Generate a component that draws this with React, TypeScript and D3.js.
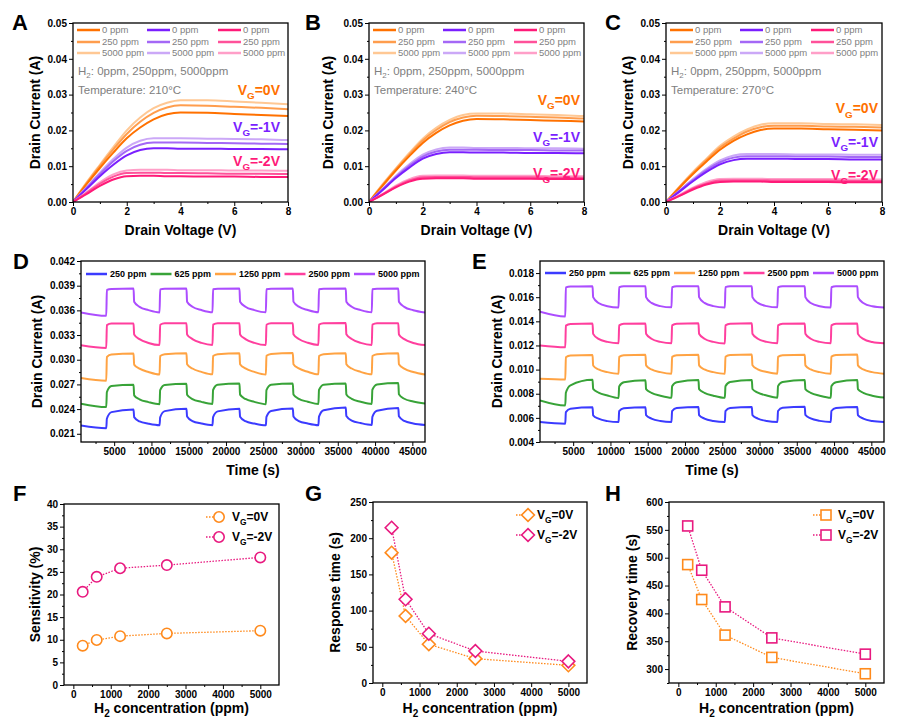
import { useEffect, useRef } from "react";
import * as d3 from "d3";

const FONT = "'Liberation Sans', Arial, Helvetica, sans-serif";

// ---------- A-C: output curves ----------
const VD = [0, 0.5, 1, 1.5, 2, 2.5, 3, 3.5, 4, 5, 6, 7, 8];
const PPM_LABELS = ["0 ppm", "250 ppm", "5000 ppm"];
const TEMPS = ["210°C", "240°C", "270°C"];

// rows: 0 ppm, 250 ppm, 5000 ppm
const A_VG0 = [
  [0, 0.0049, 0.0095, 0.0138, 0.0178, 0.0208, 0.0231, 0.0245, 0.025, 0.0249, 0.0246, 0.0243, 0.024],
  [0, 0.0052, 0.0101, 0.0147, 0.019, 0.0224, 0.0249, 0.0264, 0.027, 0.0269, 0.0266, 0.0263, 0.0259],
  [0, 0.0054, 0.0104, 0.0153, 0.02, 0.0236, 0.0262, 0.0277, 0.0284, 0.0284, 0.0281, 0.0277, 0.0273],
];
const A_VG1 = [
  [0, 0.0036, 0.0072, 0.0104, 0.013, 0.0145, 0.015, 0.015, 0.0149, 0.0149, 0.0148, 0.0148, 0.0147],
  [0, 0.0039, 0.0078, 0.0114, 0.0143, 0.016, 0.0166, 0.0166, 0.0166, 0.0165, 0.0164, 0.0163, 0.0162],
  [0, 0.0041, 0.0082, 0.012, 0.0152, 0.0171, 0.0178, 0.0178, 0.0178, 0.0177, 0.0176, 0.0175, 0.0173],
];
const A_VG2 = [
  [0, 0.0022, 0.0045, 0.0063, 0.0072, 0.0073, 0.0073, 0.0072, 0.0072, 0.0071, 0.0071, 0.007, 0.007],
  [0, 0.0025, 0.0051, 0.0071, 0.0081, 0.0082, 0.0082, 0.0081, 0.0081, 0.008, 0.0079, 0.0079, 0.0078],
  [0, 0.0027, 0.0055, 0.0077, 0.0088, 0.009, 0.009, 0.009, 0.0089, 0.0089, 0.0088, 0.0088, 0.0087],
];
const B_VG0 = [
  [0, 0.0045, 0.0088, 0.0128, 0.0165, 0.0193, 0.0214, 0.0227, 0.0232, 0.0231, 0.0229, 0.0227, 0.0225],
  [0, 0.0047, 0.0092, 0.0133, 0.0172, 0.0201, 0.0223, 0.0236, 0.0241, 0.024, 0.0238, 0.0236, 0.0233],
  [0, 0.0049, 0.0094, 0.0137, 0.0177, 0.0207, 0.0229, 0.0243, 0.0247, 0.0247, 0.0245, 0.0243, 0.024],
];
const B_VG1 = [
  [0, 0.0033, 0.0067, 0.0096, 0.0121, 0.0134, 0.0139, 0.0139, 0.0138, 0.0138, 0.0137, 0.0137, 0.0136],
  [0, 0.0035, 0.007, 0.0101, 0.0127, 0.0141, 0.0146, 0.0146, 0.0146, 0.0145, 0.0145, 0.0144, 0.0144],
  [0, 0.0036, 0.0073, 0.0105, 0.0132, 0.0147, 0.0152, 0.0152, 0.0151, 0.0151, 0.015, 0.015, 0.0149],
];
const B_VG2 = [
  [0, 0.002, 0.0041, 0.0057, 0.0065, 0.0066, 0.0066, 0.0066, 0.0065, 0.0065, 0.0065, 0.0064, 0.0064],
  [0, 0.0021, 0.0043, 0.006, 0.0069, 0.007, 0.007, 0.007, 0.0069, 0.0069, 0.0069, 0.0068, 0.0068],
  [0, 0.0022, 0.0046, 0.0064, 0.0073, 0.0074, 0.0074, 0.0074, 0.0073, 0.0073, 0.0073, 0.0072, 0.0072],
];
const C_VG0 = [
  [0, 0.004, 0.0078, 0.0113, 0.0146, 0.0171, 0.0189, 0.0201, 0.0205, 0.0205, 0.0203, 0.0202, 0.02],
  [0, 0.0042, 0.0081, 0.0118, 0.0152, 0.0177, 0.0197, 0.0209, 0.0213, 0.0213, 0.0211, 0.021, 0.0208],
  [0, 0.0043, 0.0084, 0.0121, 0.0157, 0.0183, 0.0203, 0.0216, 0.022, 0.022, 0.0218, 0.0217, 0.0215],
];
const C_VG1 = [
  [0, 0.0029, 0.0058, 0.0084, 0.0105, 0.0117, 0.0121, 0.0121, 0.0121, 0.012, 0.012, 0.0119, 0.0119],
  [0, 0.0031, 0.0061, 0.0089, 0.0111, 0.0124, 0.0128, 0.0128, 0.0128, 0.0127, 0.0127, 0.0126, 0.0126],
  [0, 0.0032, 0.0064, 0.0093, 0.0116, 0.013, 0.0134, 0.0134, 0.0134, 0.0133, 0.0133, 0.0132, 0.0132],
];
const C_VG2 = [
  [0, 0.0017, 0.0035, 0.0049, 0.0056, 0.0057, 0.0057, 0.0057, 0.0056, 0.0056, 0.0056, 0.0055, 0.0055],
  [0, 0.0018, 0.0038, 0.0052, 0.006, 0.0061, 0.0061, 0.0061, 0.006, 0.006, 0.006, 0.0059, 0.0059],
  [0, 0.002, 0.004, 0.0056, 0.0064, 0.0065, 0.0065, 0.0065, 0.0064, 0.0064, 0.0064, 0.0063, 0.0063],
];

const IV_COLORS = [
  ["#ff7100", "#ff9d4d", "#ffc894"],
  ["#7a1fff", "#a468f6", "#cba8f7"],
  ["#ff1a78", "#ff519a", "#ff9fc8"],
];
const VG_NAMES = ["=0V", "=-1V", "=-2V"];

// ---------- D-E: transient response ----------
const CONC_LABELS = ["250 ppm", "625 ppm", "1250 ppm", "2500 ppm", "5000 ppm"];
const TS_COLORS = ["#3b3bff", "#38a338", "#ffa343", "#ff3f9e", "#ac4dff"];

// time knots (s): start, then per cycle [on, on+, knee, off, off+, decay, decay], end
const T_KNOTS = [
  550,
  3940, 4020, 4640, 7600, 7680, 8400, 9600,
  11090, 11170, 11790, 14700, 14780, 15500, 16700,
  18190, 18270, 18890, 21810, 21890, 22610, 23810,
  25350, 25430, 26050, 28970, 29050, 29770, 30970,
  32400, 32480, 33100, 36070, 36150, 36870, 38070,
  39560, 39640, 40260, 43120, 43200, 43920, 45120,
  46700,
];

const D_250 = [
  0.022,
  0.02168, 0.02283, 0.02363, 0.02396, 0.02302, 0.0225, 0.02222,
  0.02203, 0.023, 0.02375, 0.02405, 0.0231, 0.02255, 0.02225,
  0.02205, 0.02302, 0.02372, 0.02403, 0.02308, 0.02253, 0.02224,
  0.02203, 0.02305, 0.02378, 0.02408, 0.0231, 0.02255, 0.02225,
  0.02205, 0.02308, 0.02385, 0.02418, 0.02315, 0.0226, 0.0223,
  0.02208, 0.02306, 0.0238, 0.02412, 0.02312, 0.02256, 0.02226,
  0.02208,
];
const D_625 = [
  0.02466,
  0.02425, 0.02607, 0.0268, 0.02697, 0.02567, 0.02518, 0.02485,
  0.0246, 0.0263, 0.02692, 0.02708, 0.02575, 0.02522, 0.02488,
  0.02462, 0.02632, 0.02695, 0.0271, 0.02576, 0.02523, 0.02488,
  0.0246, 0.0263, 0.02696, 0.02712, 0.02577, 0.02524, 0.0249,
  0.02462, 0.02633, 0.02697, 0.02712, 0.02578, 0.02524, 0.0249,
  0.02463, 0.02635, 0.027, 0.02718, 0.0258, 0.02526, 0.02492,
  0.02468,
];
const D_1250 = [
  0.02778,
  0.02745, 0.03034, 0.03063, 0.03075, 0.02941, 0.02892, 0.02851,
  0.0282, 0.03045, 0.03068, 0.03078, 0.02945, 0.02893, 0.02852,
  0.02822, 0.03046, 0.03068, 0.03079, 0.02946, 0.02894, 0.02852,
  0.0282, 0.03048, 0.0307, 0.03082, 0.02946, 0.02894, 0.02853,
  0.02822, 0.03046, 0.03068, 0.0308, 0.02946, 0.02893, 0.02852,
  0.02822, 0.03045, 0.03067, 0.03078, 0.02945, 0.02892, 0.02851,
  0.0282,
];
const D_2500 = [
  0.03176,
  0.03143, 0.0342, 0.0344, 0.0344, 0.03307, 0.0325, 0.03204,
  0.03178, 0.03425, 0.03442, 0.03443, 0.03308, 0.03251, 0.03205,
  0.0318, 0.03426, 0.03443, 0.03443, 0.03308, 0.03251, 0.03205,
  0.03178, 0.03425, 0.03442, 0.03444, 0.03309, 0.03252, 0.03206,
  0.0318, 0.03427, 0.03444, 0.03446, 0.0331, 0.03252, 0.03205,
  0.0318, 0.03426, 0.03443, 0.03444, 0.03308, 0.0325, 0.03204,
  0.03178,
];
const D_5000 = [
  0.03575,
  0.03534, 0.03847, 0.03859, 0.03867, 0.03704, 0.03643, 0.03603,
  0.03575, 0.03855, 0.03862, 0.03866, 0.03705, 0.03644, 0.03604,
  0.03577, 0.03856, 0.03863, 0.03866, 0.03705, 0.03644, 0.03603,
  0.03576, 0.03856, 0.03863, 0.03867, 0.03706, 0.03645, 0.03604,
  0.03577, 0.03857, 0.03864, 0.03867, 0.03705, 0.03644, 0.03603,
  0.03576, 0.03856, 0.03863, 0.03866, 0.03704, 0.03643, 0.03602,
  0.03575,
];

const E_250 = [
  0.00565,
  0.00552, 0.00648, 0.00676, 0.00687, 0.00621, 0.00593, 0.00573,
  0.00565, 0.00655, 0.0068, 0.00689, 0.00622, 0.00594, 0.00574,
  0.00566, 0.00656, 0.00681, 0.0069, 0.00623, 0.00594, 0.00574,
  0.00565, 0.00656, 0.00682, 0.00691, 0.00623, 0.00594, 0.00574,
  0.00566, 0.00657, 0.00683, 0.00692, 0.00624, 0.00595, 0.00575,
  0.00566, 0.00657, 0.00682, 0.00691, 0.00623, 0.00594, 0.00574,
  0.00566,
];
const E_625 = [
  0.00745,
  0.00703, 0.00808, 0.0087, 0.00915, 0.0084, 0.0081, 0.00785,
  0.00765, 0.0086, 0.00895, 0.00912, 0.00838, 0.00808, 0.00784,
  0.00767, 0.00862, 0.00896, 0.00913, 0.00838, 0.00808, 0.00784,
  0.00766, 0.00862, 0.00897, 0.00914, 0.00839, 0.00809, 0.00785,
  0.00767, 0.00863, 0.00897, 0.00913, 0.00838, 0.00808, 0.00784,
  0.00767, 0.00862, 0.00896, 0.00913, 0.00838, 0.00808, 0.00784,
  0.00768,
];
const E_1250 = [
  0.00924,
  0.00918, 0.01102, 0.01117, 0.01122, 0.01034, 0.01001, 0.00979,
  0.00965, 0.01105, 0.01118, 0.01123, 0.01035, 0.01001, 0.00979,
  0.00966, 0.01106, 0.01119, 0.01123, 0.01035, 0.01001, 0.00979,
  0.00965, 0.01106, 0.0112, 0.01125, 0.01036, 0.01002, 0.0098,
  0.00966, 0.01106, 0.01119, 0.01124, 0.01035, 0.01001, 0.00979,
  0.00966, 0.01107, 0.0112, 0.01125, 0.01035, 0.01001, 0.00979,
  0.00966,
];
const E_2500 = [
  0.012,
  0.01185, 0.01364, 0.01378, 0.01383, 0.01296, 0.01255, 0.0123,
  0.01218, 0.01366, 0.01379, 0.01383, 0.01297, 0.01256, 0.0123,
  0.01218, 0.01366, 0.01379, 0.01384, 0.01297, 0.01256, 0.0123,
  0.01217, 0.01367, 0.0138, 0.01384, 0.01297, 0.01256, 0.0123,
  0.01218, 0.01366, 0.01379, 0.01383, 0.01297, 0.01256, 0.0123,
  0.01218, 0.01366, 0.01379, 0.01383, 0.01296, 0.01255, 0.01229,
  0.01218,
];
const E_5000 = [
  0.0148,
  0.01441, 0.01681, 0.01689, 0.0169, 0.016, 0.01552, 0.01525,
  0.01515, 0.01683, 0.0169, 0.0169, 0.01601, 0.01553, 0.01526,
  0.01516, 0.01683, 0.0169, 0.01691, 0.01601, 0.01553, 0.01526,
  0.01515, 0.01684, 0.01691, 0.01691, 0.01601, 0.01553, 0.01526,
  0.01516, 0.01683, 0.0169, 0.0169, 0.016, 0.01552, 0.01525,
  0.01515, 0.01683, 0.0169, 0.0169, 0.016, 0.01552, 0.01525,
  0.01515,
];

// ---------- F-H: summary ----------
const H2_PPM = [250, 625, 1250, 2500, 5000];
const SENS_0V = [8.7, 9.95, 10.8, 11.4, 12.0];
const SENS_2V = [20.6, 23.9, 25.8, 26.5, 28.2];
const RESP_0V = [180, 92.5, 53.5, 33.6, 24.4];
const RESP_2V = [214.5, 115.6, 68.1, 44.2, 29.9];
const REC_0V = [487.6, 424.9, 361, 321, 291.6];
const REC_2V = [557, 477.5, 411.7, 356, 326.8];
const SUM_COLORS = ["#ff8a1c", "#e8197f"];

type Box = { l: number; t: number; w: number; h: number };
type Sel = d3.Selection<any, any, any, any>;

let clipId = 0;

function panel(
  svg: Sel,
  box: Box,
  x: d3.ScaleLinear<number, number>,
  y: d3.ScaleLinear<number, number>,
  cfg: {
    xTicks: number[];
    xMinor: number[];
    yTicks: number[];
    yMinor: number[];
    xFmt: (d: any) => string;
    yFmt: (d: any) => string;
  }
) {
  const g = svg.append("g").attr("transform", `translate(${box.l},${box.t})`);
  g.append("g")
    .attr("transform", `translate(0,${box.h})`)
    .call(d3.axisBottom(x).tickValues(cfg.xTicks).tickFormat(cfg.xFmt).tickSize(4).tickSizeOuter(0).tickPadding(2));
  g.append("g")
    .attr("transform", `translate(0,${box.h})`)
    .call(d3.axisBottom(x).tickValues(cfg.xMinor).tickFormat(() => "").tickSize(2).tickSizeOuter(0));
  g.append("g").call(
    d3.axisLeft(y).tickValues(cfg.yTicks).tickFormat(cfg.yFmt).tickSize(4).tickSizeOuter(0).tickPadding(2)
  );
  g.append("g").call(d3.axisLeft(y).tickValues(cfg.yMinor).tickFormat(() => "").tickSize(2).tickSizeOuter(0));
  g.selectAll(".domain").remove();
  g.selectAll(".tick line").attr("stroke", "#000").attr("stroke-width", 1);
  g.selectAll(".tick text")
    .attr("font-family", FONT)
    .attr("font-weight", "bold")
    .attr("font-size", 10)
    .attr("fill", "#000");
  const id = `clip${clipId++}`;
  g.append("clipPath").attr("id", id).append("rect").attr("width", box.w).attr("height", box.h);
  const plot = g.append("g").attr("clip-path", `url(#${id})`);
  return { g, plot };
}

function frame(g: Sel, box: Box) {
  g.append("rect")
    .attr("width", box.w)
    .attr("height", box.h)
    .attr("fill", "none")
    .attr("stroke", "#000")
    .attr("stroke-width", 1.3);
}

function yTitle(g: Sel, box: Box, off: number, text: string) {
  g.append("text")
    .attr("transform", `translate(${-off},${box.h / 2}) rotate(-90)`)
    .attr("text-anchor", "middle")
    .attr("dy", "0.35em")
    .attr("font-family", FONT)
    .attr("font-weight", "bold")
    .attr("font-size", 14)
    .text(text);
}

function xTitle(g: Sel, box: Box, baseline: number, text: string, sub?: [string, string]) {
  const t = g
    .append("text")
    .attr("x", box.w / 2)
    .attr("y", baseline - box.t)
    .attr("text-anchor", "middle")
    .attr("font-family", FONT)
    .attr("font-weight", "bold")
    .attr("font-size", 14);
  if (sub) {
    t.append("tspan").text(sub[0]);
    t.append("tspan").attr("font-size", 10).attr("dy", 4).text(sub[1]);
    t.append("tspan").attr("dy", -4).text(text);
  } else t.text(text);
}

function vgText(g: Sel, x: number, y: number, rest: string, size: number, color: string, anchor: string) {
  const t = g
    .append("text")
    .attr("x", x)
    .attr("y", y)
    .attr("text-anchor", anchor)
    .attr("font-family", FONT)
    .attr("font-weight", "bold")
    .attr("font-size", size)
    .attr("fill", color);
  t.append("tspan").text("V");
  t.append("tspan").attr("font-size", size * 0.7).attr("dy", size * 0.3).text("G");
  t.append("tspan").attr("dy", -size * 0.3).text(rest);
  return t;
}

function letter(svg: Sel, x: number, y: number, s: string) {
  svg
    .append("text")
    .attr("x", x)
    .attr("y", y)
    .attr("font-family", FONT)
    .attr("font-weight", "bold")
    .attr("font-size", 22)
    .text(s);
}

function drawIV(
  svg: Sel,
  box: Box,
  sets: number[][][],
  temp: string,
  vgY: number[],
  rightPad: number,
  titleOff: number
) {
  const x = d3.scaleLinear().domain([0, 8]).range([0, box.w]);
  const y = d3.scaleLinear().domain([0, 0.05]).range([box.h, 0]);
  const { g, plot } = panel(svg, box, x, y, {
    xTicks: [0, 2, 4, 6, 8],
    xMinor: [1, 3, 5, 7],
    yTicks: [0, 0.01, 0.02, 0.03, 0.04, 0.05],
    yMinor: [0.005, 0.015, 0.025, 0.035, 0.045],
    xFmt: d3.format("d"),
    yFmt: d3.format(".2f"),
  });
  const line = d3
    .line<number>()
    .x((_, i) => x(VD[i]))
    .y((d) => y(d))
    .curve(d3.curveMonotoneX);
  sets.forEach((set, vi) => {
    [2, 1, 0].forEach((ci) => {
      plot
        .append("path")
        .attr("d", line(set[ci]))
        .attr("fill", "none")
        .attr("stroke", IV_COLORS[vi][ci])
        .attr("stroke-width", 2);
    });
  });
  // legend 3x3
  const cols = [4, 74, 145];
  const rows = [7, 19, 30];
  cols.forEach((cx, vi) => {
    rows.forEach((ry, ci) => {
      g.append("line")
        .attr("x1", cx)
        .attr("x2", cx + 23)
        .attr("y1", ry)
        .attr("y2", ry)
        .attr("stroke", IV_COLORS[vi][ci])
        .attr("stroke-width", 2.5);
      g.append("text")
        .attr("x", cx + 25)
        .attr("y", ry)
        .attr("dy", "0.35em")
        .attr("font-family", FONT)
        .attr("font-size", 9.5)
        .attr("fill", "#7f7f7f")
        .text(PPM_LABELS[ci]);
    });
  });
  const h2 = g
    .append("text")
    .attr("x", 5)
    .attr("y", 52)
    .attr("font-family", FONT)
    .attr("font-size", 11.5)
    .attr("fill", "#808080");
  h2.append("tspan").text("H");
  h2.append("tspan").attr("font-size", 8).attr("dy", 3).text("2");
  h2.append("tspan").attr("dy", -3).text(": 0ppm, 250ppm, 5000ppm");
  g.append("text")
    .attr("x", 5)
    .attr("y", 71)
    .attr("font-family", FONT)
    .attr("font-size", 11.5)
    .attr("fill", "#808080")
    .text(`Temperature: ${temp}`);
  VG_NAMES.forEach((nm, vi) => {
    vgText(g, box.w - rightPad, y(vgY[vi]), nm, 14, IV_COLORS[vi][0], "end");
  });
  frame(g, box);
  yTitle(g, box, titleOff, "Drain Current (A)");
  xTitle(g, box, 235, "Drain Voltage (V)");
}

function drawTS(
  svg: Sel,
  box: Box,
  series: number[][],
  yDomain: [number, number],
  yTicks: number[],
  yMinor: number[],
  legendX: number,
  legendY: number,
  titleOff: number
) {
  const x = d3.scaleLinear().domain([550, 46700]).range([0, box.w]);
  const y = d3.scaleLinear().domain(yDomain).range([box.h, 0]);
  const { g, plot } = panel(svg, box, x, y, {
    xTicks: d3.range(5000, 45001, 5000),
    xMinor: d3.range(2500, 46000, 5000),
    yTicks,
    yMinor,
    xFmt: d3.format("d"),
    yFmt: d3.format(".3f"),
  });
  const line = d3
    .line<number>()
    .x((_, i) => x(T_KNOTS[i]))
    .y((d) => y(d))
    .curve(d3.curveMonotoneX);
  series.forEach((s, i) => {
    plot
      .append("path")
      .attr("d", line(s))
      .attr("fill", "none")
      .attr("stroke", TS_COLORS[i])
      .attr("stroke-width", 2)
      .attr("stroke-linejoin", "round");
  });
  // legend row
  const widths = [36.5, 36.5, 41.5, 41.5, 41.5];
  let cx = legendX - box.l;
  const ly = legendY - box.t;
  CONC_LABELS.forEach((lab, i) => {
    g.append("line")
      .attr("x1", cx)
      .attr("x2", cx + 21)
      .attr("y1", ly)
      .attr("y2", ly)
      .attr("stroke", TS_COLORS[i])
      .attr("stroke-width", 2.5);
    g.append("text")
      .attr("x", cx + 24)
      .attr("y", ly)
      .attr("dy", "0.35em")
      .attr("font-family", FONT)
      .attr("font-weight", "bold")
      .attr("font-size", 9)
      .text(lab);
    cx += 24 + widths[i] + 4;
  });
  frame(g, box);
  yTitle(g, box, titleOff, "Drain Current (A)");
  xTitle(g, box, 475, "Time (s)");
}

function marker(g: Sel, kind: string, cx: number, cy: number, color: string) {
  if (kind === "circle") {
    g.append("circle")
      .attr("cx", cx)
      .attr("cy", cy)
      .attr("r", 5.2)
      .attr("fill", "#fff")
      .attr("stroke", color)
      .attr("stroke-width", 1.6);
  } else if (kind === "diamond") {
    const r = 6.4;
    g.append("path")
      .attr("d", `M${cx},${cy - r}L${cx + r},${cy}L${cx},${cy + r}L${cx - r},${cy}Z`)
      .attr("fill", "#fff")
      .attr("stroke", color)
      .attr("stroke-width", 1.6);
  } else {
    g.append("rect")
      .attr("x", cx - 5)
      .attr("y", cy - 5)
      .attr("width", 10)
      .attr("height", 10)
      .attr("fill", "#fff")
      .attr("stroke", color)
      .attr("stroke-width", 1.6);
  }
}

function drawSummary(
  svg: Sel,
  box: Box,
  s0: number[],
  s2: number[],
  yDomain: [number, number],
  yTicks: number[],
  yMinor: number[],
  kind: string,
  title: string,
  titleOff: number,
  leg: { line: number; mk: number; tx: number; y1: number; y2: number }
) {
  const x = d3.scaleLinear().domain([-250, 5500]).range([0, box.w]);
  const y = d3.scaleLinear().domain(yDomain).range([box.h, 0]);
  const { g } = panel(svg, box, x, y, {
    xTicks: [0, 1000, 2000, 3000, 4000, 5000],
    xMinor: [500, 1500, 2500, 3500, 4500],
    yTicks,
    yMinor,
    xFmt: d3.format("d"),
    yFmt: d3.format("d"),
  });
  const line = d3
    .line<number>()
    .x((_, i) => x(H2_PPM[i]))
    .y((d) => y(d));
  [s0, s2].forEach((s, k) => {
    g.append("path")
      .attr("d", line(s))
      .attr("fill", "none")
      .attr("stroke", SUM_COLORS[k])
      .attr("stroke-width", 1.3)
      .attr("stroke-dasharray", "1.5 1.5");
  });
  [s0, s2].forEach((s, k) => {
    s.forEach((v, i) => marker(g, kind, x(H2_PPM[i]), y(v), SUM_COLORS[k]));
  });
  // legend
  [leg.y1, leg.y2].forEach((ly, k) => {
    const yy = ly - box.t;
    g.append("line")
      .attr("x1", leg.line - box.l)
      .attr("x2", leg.mk - box.l)
      .attr("y1", yy)
      .attr("y2", yy)
      .attr("stroke", SUM_COLORS[k])
      .attr("stroke-width", 1.3)
      .attr("stroke-dasharray", "1.5 1.5");
    marker(g, kind, leg.mk - box.l, yy, SUM_COLORS[k]);
    vgText(g, leg.tx - box.l, yy + 4.3, k === 0 ? "=0V" : "=-2V", 12, "#000", "start");
  });
  frame(g, box);
  yTitle(g, box, titleOff, title);
  xTitle(g, box, 713, " concentration (ppm)", ["H", "2"]);
}

export default function App() {
  const ref = useRef<SVGSVGElement>(null);
  useEffect(() => {
    if (!ref.current) return;
    const svg = d3.select(ref.current);
    svg.selectAll("*").remove();
    clipId = 0;
    svg.append("rect").attr("width", 900).attr("height", 727).attr("fill", "#fff");

    const boxA = { l: 73, t: 23, w: 215, h: 179 };
    const boxB = { l: 369, t: 23, w: 215, h: 179 };
    const boxC = { l: 666, t: 23, w: 216, h: 179 };
    drawIV(svg, boxA, [A_VG0, A_VG1, A_VG2], TEMPS[0], [0.0299, 0.01955, 0.01005], 8, 38);
    drawIV(svg, boxB, [B_VG0, B_VG1, B_VG2], TEMPS[1], [0.0271, 0.01684, 0.0066], 4, 41);
    drawIV(svg, boxC, [C_VG0, C_VG1, C_VG2], TEMPS[2], [0.02477, 0.01545, 0.00615], 4, 38);

    const boxD = { l: 81, t: 261, w: 344, h: 181 };
    const boxE = { l: 540, t: 261, w: 344, h: 181 };
    drawTS(
      svg,
      boxD,
      [D_250, D_625, D_1250, D_2500, D_5000],
      [0.02, 0.042],
      d3.range(0.021, 0.04201, 0.003),
      d3.range(0.0225, 0.042, 0.003),
      86,
      274,
      44
    );
    drawTS(
      svg,
      boxE,
      [E_250, E_625, E_1250, E_2500, E_5000],
      [0.004, 0.019],
      d3.range(0.004, 0.01801, 0.002),
      d3.range(0.005, 0.019, 0.002),
      545,
      273,
      43
    );

    const boxF = { l: 64, t: 504, w: 215, h: 181 };
    const boxG = { l: 373, t: 502, w: 214, h: 181 };
    const boxH = { l: 669, t: 502, w: 215, h: 181 };
    drawSummary(svg, boxF, SENS_0V, SENS_2V, [0, 40], d3.range(0, 41, 5), d3.range(2.5, 40, 5), "circle",
      "Sensitivity (%)", 29, { line: 206, mk: 219, tx: 232, y1: 517, y2: 537 });
    drawSummary(svg, boxG, RESP_0V, RESP_2V, [0, 250], d3.range(0, 251, 50), d3.range(25, 250, 50), "diamond",
      "Response time (s)", 38, { line: 516, mk: 528, tx: 537, y1: 515, y2: 535 });
    drawSummary(svg, boxH, REC_0V, REC_2V, [275, 600], d3.range(300, 601, 50), d3.range(275, 600, 50), "square",
      "Recovery time (s)", 37, { line: 813, mk: 826, tx: 838, y1: 515, y2: 535 });

    letter(svg, 12, 29.5, "A");
    letter(svg, 305, 29.5, "B");
    letter(svg, 605, 29.5, "C");
    letter(svg, 13, 269, "D");
    letter(svg, 472, 269, "E");
    letter(svg, 13, 501, "F");
    letter(svg, 305, 501, "G");
    letter(svg, 605, 501, "H");
  }, []);
  return (
    <svg
      ref={ref}
      width={900}
      height={727}
      style={{ position: "absolute", left: 0, top: 0, display: "block" }}
    />
  );
}
